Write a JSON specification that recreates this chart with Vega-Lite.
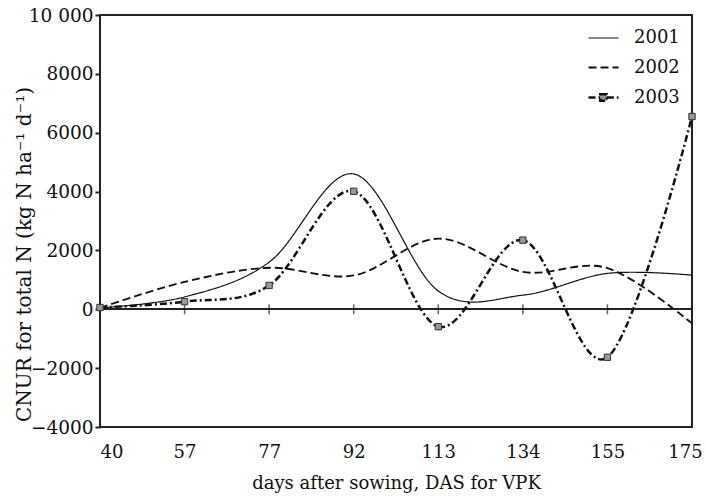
{
  "$schema": "https://vega.github.io/schema/vega-lite/v6.json",
  "width": 592,
  "height": 412,
  "autosize": {"type": "none"},
  "padding": {"left": 100, "top": 15, "right": 14, "bottom": 74},
  "background": "white",
  "data": {
    "values": [
      {"das": 40, "year": "2001", "cnur": 50},
      {"das": 57, "year": "2001", "cnur": 420},
      {"das": 77, "year": "2001", "cnur": 1600},
      {"das": 92, "year": "2001", "cnur": 4600},
      {"das": 113, "year": "2001", "cnur": 620},
      {"das": 134, "year": "2001", "cnur": 480},
      {"das": 155, "year": "2001", "cnur": 1220},
      {"das": 175, "year": "2001", "cnur": 1160},
      {"das": 40, "year": "2002", "cnur": 50},
      {"das": 57, "year": "2002", "cnur": 930},
      {"das": 77, "year": "2002", "cnur": 1410},
      {"das": 92, "year": "2002", "cnur": 1150},
      {"das": 113, "year": "2002", "cnur": 2400},
      {"das": 134, "year": "2002", "cnur": 1270},
      {"das": 155, "year": "2002", "cnur": 1400},
      {"das": 175, "year": "2002", "cnur": -480},
      {"das": 40, "year": "2003", "cnur": 60},
      {"das": 57, "year": "2003", "cnur": 260},
      {"das": 77, "year": "2003", "cnur": 810},
      {"das": 92, "year": "2003", "cnur": 4010},
      {"das": 113, "year": "2003", "cnur": -590},
      {"das": 134, "year": "2003", "cnur": 2350},
      {"das": 155, "year": "2003", "cnur": -1630},
      {"das": 175, "year": "2003", "cnur": 6550}
    ]
  },
  "encoding": {
    "x": {
      "field": "das",
      "type": "ordinal",
      "scale": {"type": "point", "padding": 0, "domain": [40, 57, 77, 92, 113, 134, 155, 175]},
      "axis": {
        "title": "days after sowing, DAS for VPK",
        "labelAngle": 0,
        "ticks": false,
        "domain": false,
        "labelPadding": 16,
        "titlePadding": 13,
        "labelFontSize": 18,
        "labelAlign": {"condition": {"test": "datum.value == 40", "value": "left"}, "value": "center"},
        "labelOffset": {"condition": {"test": "datum.value == 175", "value": -7}, "value": 0}
      }
    }
  },
  "layer": [
    {
      "mark": {"type": "rule", "color": "#222", "strokeWidth": 1.5},
      "encoding": {
        "x": null,
        "y": {"datum": 0, "type": "quantitative", "title": "CNUR for total N (kg N ha⁻¹ d⁻¹)"}
      }
    },
    {
      "transform": [{"filter": "datum.year == '2001'"}],
      "mark": {"type": "tick", "orient": "vertical", "size": 10, "thickness": 1.5, "color": "#222"},
      "encoding": {
        "y": {"datum": 0, "type": "quantitative", "title": "CNUR for total N (kg N ha⁻¹ d⁻¹)"}
      }
    },
    {
      "mark": {"type": "line", "interpolate": "cardinal", "color": "#111"},
      "encoding": {
        "y": {
          "field": "cnur",
          "type": "quantitative",
          "title": "CNUR for total N (kg N ha⁻¹ d⁻¹)",
          "scale": {"domain": [-4000, 10000], "nice": false, "zero": false},
          "axis": {
            "values": [-4000, -2000, 0, 2000, 4000, 6000, 8000, 10000],
            "labelExpr": "datum.value == 10000 ? '10 000' : format(datum.value, 'd')",
            "grid": false,
            "domain": false,
            "tickSize": 5,
            "tickWidth": 2,
            "labelPadding": 2,
            "labelFontSize": 18.5,
            "titleFontSize": 20,
            "titleAngle": 270,
            "titleX": -70,
            "titleY": 239,
            "titleAlign": "center",
            "titleBaseline": "alphabetic"
          }
        },
        "detail": {"field": "year"},
        "strokeDash": {
          "field": "year",
          "type": "ordinal",
          "scale": {"domain": ["2001", "2002", "2003"], "range": [[1, 0], [8, 4], [7, 3, 2, 3]]},
          "legend": {
            "title": null,
            "encode": {
              "symbols": {
                "update": {
                  "shape": {"signal": "datum.value == '2003' ? 'M-1,0H-0.22M-0.22,-0.22H0.22V0.22H-0.22ZM0.22,0H1' : 'stroke'"},
                  "fill": {"signal": "datum.value == '2003' ? '#999' : 'transparent'"},
                  "stroke": {"value": "#111"},
                  "strokeDash": {"signal": "datum.value == '2001' ? [1, 0] : datum.value == '2002' ? [8, 4] : [7, 3, 2, 3]"},
                  "strokeWidth": {"signal": "datum.value == '2001' ? 1.2 : 2.5"},
                  "size": {"value": 900},
                  "opacity": {"value": 1}
                }
              }
            }
          }
        },
        "strokeWidth": {
          "field": "year",
          "type": "ordinal",
          "scale": {"domain": ["2001", "2002", "2003"], "range": [1.2, 2.5, 2.5]},
          "legend": {"title": null}
        }
      }
    },
    {
      "transform": [{"filter": "datum.year == '2003'"}],
      "mark": {"type": "point", "shape": "square", "filled": true, "fill": "#999", "stroke": "#333", "strokeWidth": 1, "size": 40, "opacity": 1},
      "encoding": {
        "y": {"field": "cnur", "type": "quantitative", "title": "CNUR for total N (kg N ha⁻¹ d⁻¹)"}
      }
    }
  ],
  "config": {
    "font": "DejaVu Serif",
    "view": {"stroke": "#222", "strokeWidth": 2},
    "axis": {
      "labelFont": "DejaVu Serif",
      "titleFont": "DejaVu Serif",
      "labelFontSize": 18,
      "titleFontSize": 18,
      "labelColor": "#111",
      "titleColor": "#111",
      "titleFontWeight": "normal",
      "tickColor": "#222"
    },
    "legend": {
      "orient": "none",
      "legendX": 487,
      "legendY": 7,
      "labelFont": "DejaVu Serif",
      "labelFontSize": 18,
      "labelColor": "#111",
      "symbolType": "stroke",
      "symbolSize": 900,
      "symbolStrokeColor": "#111",
      "labelOffset": 14,
      "rowPadding": 4.5
    }
  }
}
